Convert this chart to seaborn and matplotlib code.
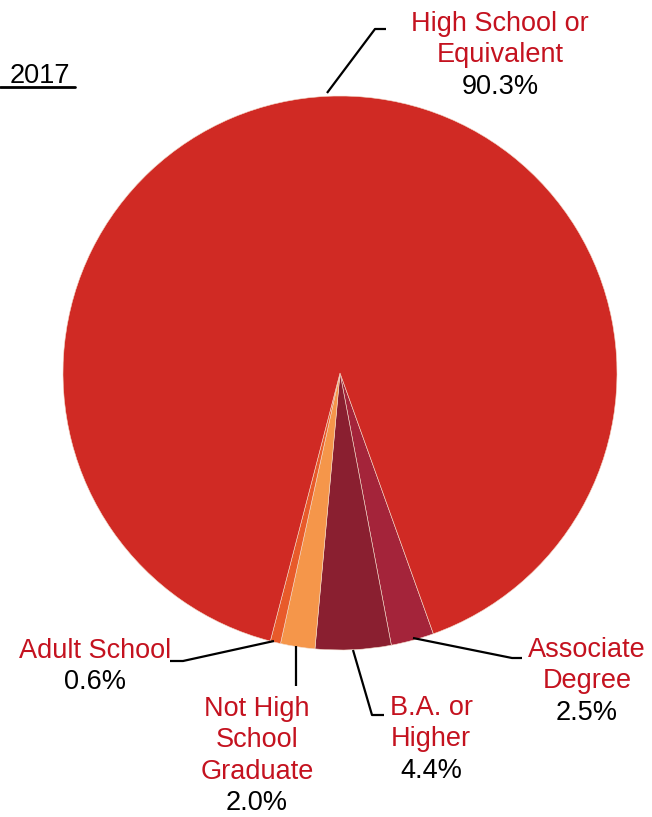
import numpy as np
import matplotlib
matplotlib.use('Agg')
import matplotlib.pyplot as plt
import seaborn as sns

# data (clockwise from the Associate slice)
labels = ['Associate\nDegree', 'B.A. or\nHigher', 'Not High\nSchool\nGraduate', 'Adult School', 'High School or\nEquivalent']
shares = [2.5, 4.4, 2.0, 0.6, 90.3]
colors = ['#A4243A', '#8A1F30', '#F5964A', '#E85A2A', '#D02A24']

sns.set_style('white')
plt.rcParams['font.family'] = ['Liberation Sans', 'DejaVu Sans']

W, H = 652, 817
fig = plt.figure(figsize=(W / 100, H / 100), dpi=100)
ax = fig.add_axes([0, 0, 1, 1])

cx, cy, r = 340, H - 373, 277
ax.pie(shares, colors=colors, startangle=-70.3, counterclock=False,
       center=(cx, cy), radius=r, frame=True,
       wedgeprops=dict(edgecolor='#F3D9C8', linewidth=0.4))
ax.set_xlim(0, W)
ax.set_ylim(0, H)
ax.set_aspect('equal')
ax.axis('off')

red = '#C4121F'
fs = 19.5
step = 31.3

def lab(x, y, name, pct):
    # y = baseline of the first line, in pixels from the top
    lines = name.split('\n') + [f'{pct:.1f}%']
    for i, t in enumerate(lines):
        c = 'black' if i == len(lines) - 1 else red
        ax.text(x, H - (y + i * step), t, color=c, fontsize=fs,
                ha='center', va='baseline')

def leader(pts):
    xs = [p[0] for p in pts]
    ys = [H - p[1] for p in pts]
    ax.plot(xs, ys, color='black', lw=1.6, solid_capstyle='butt')

# High School
lab(500, 31, labels[4], shares[4])
leader([(327, 93), (375, 29), (386, 29)])
# Adult School
lab(95, 658, labels[3], shares[3])
leader([(170, 661), (183, 661), (274, 641)])
# Not High School Graduate
lab(257, 716, labels[2], shares[2])
leader([(296, 646), (296, 686)])
# B.A.
lab(431, 715, labels[1], shares[1])
leader([(353, 650), (372, 715), (384, 715)])
# Associate
lab(587, 657, labels[0], shares[0])
leader([(413, 638), (512, 658), (522, 658)])

# year heading
ax.text(10, H - 83, '2017', fontsize=fs, color='black', ha='left', va='baseline')
ax.plot([0, 75], [H - 87, H - 87], color='black', lw=2)

fig.savefig('out.png', dpi=100)
